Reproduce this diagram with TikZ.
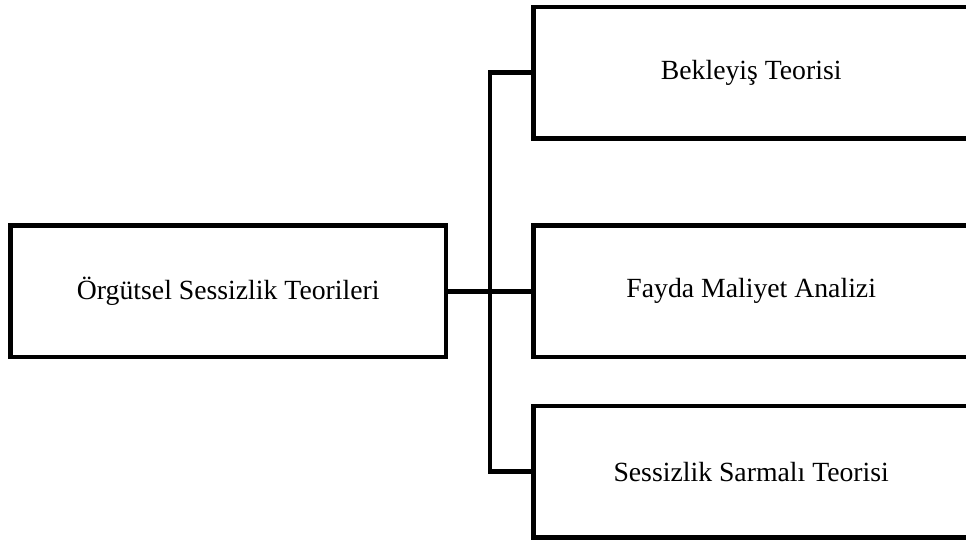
\documentclass[tikz,border=0pt]{standalone}
\usepackage{fontspec}
\setmainfont{Liberation Serif}
\usetikzlibrary{positioning}

\begin{document}
\begin{tikzpicture}[
    x=0.75pt, y=-0.75pt,
    font=\fontsize{20.8}{25}\selectfont,
    box/.style = {rectangle, draw, line width=3.4pt, outer sep=0pt, minimum width=326.6pt, minimum height=98.6pt, align=center},
    link/.style = {line width=3.4pt}
]

% Page frame (right boxes run past the edge)
\useasboundingbox (0,0) rectangle (966,540);
\clip (0,0) rectangle (966,540);

% Root
\node[box] (theories) at (228.25,291.25) {Örgütsel Sessizlik Teorileri};

% Branches
\node[box, right=65.6pt of theories] (costbenefit) {Fayda Maliyet Analizi};
\node[box, above=65.4pt of costbenefit] (expectancy) {Bekleyiş Teorisi};
\node[box, below=36.75pt of costbenefit] (spiral) {Sessizlik Sarmalı Teorisi};

% Trunk
\coordinate (trunk) at ([xshift=33pt]theories.east);

% Connectors
\draw[link] (theories) -- (costbenefit);
\draw[link] (expectancy.west) -| (trunk) |- (spiral.west);

\end{tikzpicture}
\end{document}
